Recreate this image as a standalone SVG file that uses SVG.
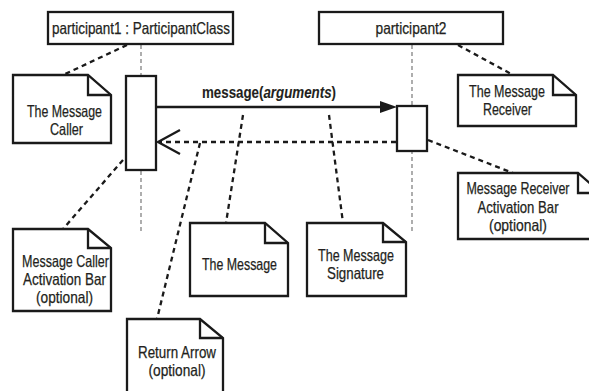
<svg xmlns="http://www.w3.org/2000/svg" width="589" height="391" viewBox="0 0 589 391">
  <defs>
    <style>
      .box { fill: #fff; stroke: #1a1a1a; stroke-width: 2.3; }
      .fold { fill: none; stroke: #1a1a1a; stroke-width: 2.3; }
      .life { fill: none; stroke: #9a9a9a; stroke-width: 1.6; stroke-dasharray: 4 3; }
      .link { fill: none; stroke: #1a1a1a; stroke-width: 2.3; stroke-dasharray: 5 4; }
      .msg { fill: none; stroke: #1a1a1a; stroke-width: 2.3; }
      text { font-family: "Liberation Sans", Arial, sans-serif; font-size: 16.5px; fill: #231f20; text-anchor: middle; stroke: #231f20; stroke-width: 0.25; }
      .lbl { font-weight: bold; stroke-width: 0.1; }
    </style>
  </defs>
  <rect width="589" height="391" fill="#fff"/>

  <!-- lifelines -->
  <g id="lifelines">
    <line class="life" x1="141" y1="45" x2="141" y2="233"/>
    <line class="life" x1="412" y1="45" x2="412" y2="233"/>
  </g>

  <!-- participants -->
  <g id="participant1">
    <rect class="box" x="48" y="12" width="185" height="32"/>
    <text x="141" y="33.5" textLength="178" lengthAdjust="spacingAndGlyphs">participant1 : ParticipantClass</text>
  </g>
  <g id="participant2">
    <rect class="box" x="319" y="12" width="184" height="32"/>
    <text x="411" y="33.5" textLength="71" lengthAdjust="spacingAndGlyphs">participant2</text>
  </g>

  <!-- activation bars -->
  <g id="caller-bar">
    <rect class="box" x="126" y="76" width="30" height="94"/>
  </g>
  <g id="receiver-bar">
    <rect class="box" x="397" y="106" width="30" height="45"/>
  </g>

  <!-- connectors -->
  <g id="connectors">
    <line class="msg" x1="156" y1="107" x2="382" y2="107"/>
    <polygon points="380,101 397,107 380,113" fill="#1a1a1a"/>
    <line class="link" x1="396" y1="142" x2="160" y2="142"/>
    <polyline class="msg" points="180,130 158,142 180,154"/>
    <line class="link" x1="127" y1="45" x2="63" y2="75"/>
    <line class="link" x1="458" y1="45" x2="513" y2="75"/>
    <line class="link" x1="123" y1="160" x2="63" y2="229"/>
    <line class="link" x1="428" y1="140" x2="513" y2="173"/>
    <line class="link" x1="243" y1="115" x2="226" y2="223"/>
    <line class="link" x1="329" y1="115" x2="343" y2="223"/>
    <line class="link" x1="200" y1="143" x2="157" y2="319"/>
  </g>

  <!-- message signature label -->
  <g id="message-label">
    <text class="lbl" x="269" y="98" textLength="134" lengthAdjust="spacingAndGlyphs">message(<tspan font-style="italic">arguments</tspan>)</text>
  </g>

  <!-- notes -->
  <g id="note-caller">
    <path class="box" d="M13,75 H88 L111,95 V143 H13 Z"/>
    <path class="fold" d="M88,75 V95 H111"/>
    <text x="64.5" y="117" textLength="75" lengthAdjust="spacingAndGlyphs">The Message</text>
    <text x="66.5" y="134.5" textLength="33" lengthAdjust="spacingAndGlyphs">Caller</text>
  </g>
  <g id="note-receiver">
    <path class="box" d="M458,75 H553 L576,95 V126 H458 Z"/>
    <path class="fold" d="M553,75 V95 H576"/>
    <text x="507" y="97" textLength="76" lengthAdjust="spacingAndGlyphs">The Message</text>
    <text x="507.5" y="115" textLength="49" lengthAdjust="spacingAndGlyphs">Receiver</text>
  </g>
  <g id="note-caller-bar">
    <path class="box" d="M13,229 H88 L111,248 V311 H13 Z"/>
    <path class="fold" d="M88,229 V248 H111"/>
    <text x="65.5" y="267" textLength="87" lengthAdjust="spacingAndGlyphs">Message Caller</text>
    <text x="64.5" y="285" textLength="83" lengthAdjust="spacingAndGlyphs">Activation Bar</text>
    <text x="64.5" y="302.5" textLength="57" lengthAdjust="spacingAndGlyphs">(optional)</text>
  </g>
  <g id="note-receiver-bar">
    <path class="box" d="M458,173 H578 L601,193 V239 H458 Z"/>
    <path class="fold" d="M578,173 V193 H601"/>
    <text x="518" y="194" textLength="103" lengthAdjust="spacingAndGlyphs">Message Receiver</text>
    <text x="518" y="213" textLength="81" lengthAdjust="spacingAndGlyphs">Activation Bar</text>
    <text x="518" y="230.5" textLength="58" lengthAdjust="spacingAndGlyphs">(optional)</text>
  </g>
  <g id="note-message">
    <path class="box" d="M190,223 H265 L288,243 V296 H190 Z"/>
    <path class="fold" d="M265,223 V243 H288"/>
    <text x="239.5" y="270" textLength="75" lengthAdjust="spacingAndGlyphs">The Message</text>
  </g>
  <g id="note-signature">
    <path class="box" d="M307,223 H383 L406,242 V296 H307 Z"/>
    <path class="fold" d="M383,223 V242 H406"/>
    <text x="356" y="261" textLength="76" lengthAdjust="spacingAndGlyphs">The Message</text>
    <text x="355.5" y="278.5" textLength="57" lengthAdjust="spacingAndGlyphs">Signature</text>
  </g>
  <g id="note-return">
    <path class="box" d="M127,319 H200 L223,338 V400 H127 Z"/>
    <path class="fold" d="M200,319 V338 H223"/>
    <text x="177" y="358" textLength="78" lengthAdjust="spacingAndGlyphs">Return Arrow</text>
    <text x="177" y="375.5" textLength="57" lengthAdjust="spacingAndGlyphs">(optional)</text>
  </g>
</svg>
